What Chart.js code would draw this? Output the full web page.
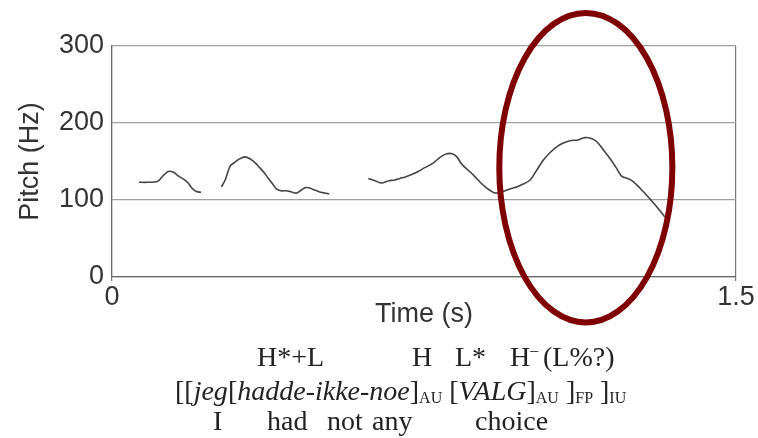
<!DOCTYPE html>
<html>
<head>
<meta charset="utf-8">
<script src="https://cdn.jsdelivr.net/npm/chart.js@4.4.1/dist/chart.umd.min.js"></script>
<style>
  html, body { margin: 0; padding: 0; background: #fff; }
  #wrap { position: relative; width: 758px; height: 438px; }
  #wrap canvas { position: absolute; left: 0; top: 0; }
  .ann { position: absolute; font-family: "Liberation Serif", "Times New Roman", serif;
         font-size: 28px; line-height: 28px; color: #222; white-space: pre; }
  .ann i { font-style: italic; }
  .ann .sub { font-size: 16px; position: relative; top: 3px; }
  .ann sup { font-size: 16px; position: relative; top: -11px; vertical-align: baseline; }
</style>
</head>
<body>
<div id="wrap">
  <canvas id="pitchChart" width="758" height="438"></canvas>

  <!-- fila 1: tonos -->
  <span class="ann" style="left:257px; top:343px">H*+L</span>
  <span class="ann" style="left:412px; top:343px">H</span>
  <span class="ann" style="left:455px; top:343px">L*</span>
  <span class="ann" style="left:510px; top:343px">H<sup>–</sup></span>
  <span class="ann" style="left:543px; top:343px">(L%?)</span>

  <!-- fila 2: estructura prosódica -->
  <span class="ann" style="left:175px; top:377px">[[<i>jeg</i>[<i>hadde-ikke-noe</i>]<span class="sub">AU</span> [<i>VALG</i>]<span class="sub">AU</span> ]<span class="sub">FP</span> ]<span class="sub">IU</span></span>

  <!-- fila 3: glosa -->
  <span class="ann" style="left:213px; top:407px">I</span>
  <span class="ann" style="left:267px; top:407px">had</span>
  <span class="ann" style="left:327px; top:407px">not</span>
  <span class="ann" style="left:372px; top:407px">any</span>
  <span class="ann" style="left:475px; top:407px">choice</span>
</div>

<script>
// --- DATOS ---
// tiempo en segundos, null = hueco sin voz
const tiempos = [
  0.065, 0.085, 0.109, 0.122, 0.135, 0.148, 0.160, 0.172, 0.183, 0.193, 0.203, 0.214,
  0.238,
  0.263, 0.272, 0.284, 0.295, 0.305, 0.320, 0.333, 0.345, 0.355, 0.365, 0.376, 0.386,
  0.396, 0.406, 0.418, 0.428, 0.444, 0.455, 0.464, 0.473, 0.482, 0.492, 0.502, 0.512, 0.522,
  0.570,
  0.616, 0.632, 0.648, 0.665, 0.680, 0.692, 0.705, 0.720, 0.736, 0.752, 0.772, 0.790,
  0.805, 0.818, 0.829, 0.840, 0.849, 0.860, 0.873, 0.885, 0.897, 0.910, 0.921, 0.932,
  0.945, 0.960, 0.973, 0.990, 1.005, 1.020, 1.037, 1.052, 1.069, 1.085, 1.101, 1.120,
  1.137, 1.152, 1.165, 1.180, 1.197, 1.212, 1.225, 1.240, 1.253, 1.270, 1.289, 1.310, 1.329
];
// tono en Hz
const tono = [
  123, 123, 124, 131, 137, 136, 131, 127, 122, 115, 111, 110,
  null,
  117, 126, 144, 149, 153, 156, 153, 148, 142, 136, 128, 121,
  114, 112, 112, 111, 109, 113, 116, 116, 114, 112, 110, 109, 108,
  null,
  128, 125, 122, 125, 126, 128, 130, 133, 137, 142, 148, 156,
  160, 160, 156, 147, 142, 137, 130, 123, 117, 112, 109, 110,
  112, 115, 117, 121, 126, 138, 152, 161, 169, 174, 177, 178,
  181, 180, 176, 166, 154, 142, 131, 128, 124, 115, 104, 91, 78
];
const ticksX = [0, 1.5];
const ticksY = [0, 100, 200, 300];

// zona resaltada (elipse roja) en unidades de los ejes
const zonaT = 1.139, zonaHz = 142, radioT = 0.208, radioHz = 201;

(function() {
  const puntos = tiempos.map((t, i) => ({ x: t, y: tono[i] }));
  const fuenteEje = { family: '"Liberation Sans", Arial, sans-serif', size: 27 };

  // plugin para la elipse
  const elipsePlugin = {
    id: 'elipse',
    afterDraw(chart) {
      const { ctx, scales: { x, y } } = chart;
      const cx = x.getPixelForValue(zonaT);
      const cy = y.getPixelForValue(zonaHz);
      const rx = x.getPixelForValue(zonaT + radioT) - cx;
      const ry = cy - y.getPixelForValue(zonaHz + radioHz);
      ctx.save();
      ctx.strokeStyle = '#7f0000';
      ctx.lineWidth = 6;
      ctx.beginPath();
      ctx.ellipse(cx, cy, rx, ry, 0, 0, Math.PI * 2);
      ctx.stroke();
      ctx.restore();
    }
  };

  const ctx = document.getElementById('pitchChart').getContext('2d');
  new Chart(ctx, {
    type: 'line',
    data: {
      datasets: [{
        data: puntos,
        borderColor: '#444',
        borderWidth: 1.6,
        pointRadius: 0,
        tension: 0.3,
        spanGaps: false
      }]
    },
    options: {
      responsive: false,
      animation: false,
      devicePixelRatio: 1,
      layout: { padding: { top: 46, right: 22, left: 0, bottom: 107 } },
      plugins: { legend: { display: false }, tooltip: { enabled: false } },
      scales: {
        x: {
          type: 'linear',
          min: 0, max: 1.5,
          afterBuildTicks: (s) => { s.ticks = ticksX.map(v => ({ value: v })); },
          afterFit: (s) => { s.height = 54; },
          grid: { color: '#777', lineWidth: 1.2, drawTicks: true, tickLength: 4 },
          border: { color: '#666', width: 1.2 },
          ticks: { font: fuenteEje, color: '#333', padding: 0, maxRotation: 0,
                   callback: (v) => String(v) },
          title: { display: true, text: 'Time (s)', font: fuenteEje, color: '#333',
                   padding: { top: 0, bottom: 0 } }
        },
        y: {
          min: 0, max: 300,
          afterBuildTicks: (s) => { s.ticks = ticksY.map(v => ({ value: v })); },
          afterFit: (s) => { s.width = 112; },
          grid: { color: '#a0a0a0', lineWidth: 1.2, drawTicks: false },
          border: { color: '#666', width: 1.2 },
          ticks: { font: fuenteEje, color: '#333', padding: 8 },
          title: { display: true, text: 'Pitch (Hz)', font: fuenteEje, color: '#333',
                   padding: { top: 14, bottom: 0 } }
        }
      }
    },
    plugins: [elipsePlugin]
  });
})();
</script>
</body>
</html>
